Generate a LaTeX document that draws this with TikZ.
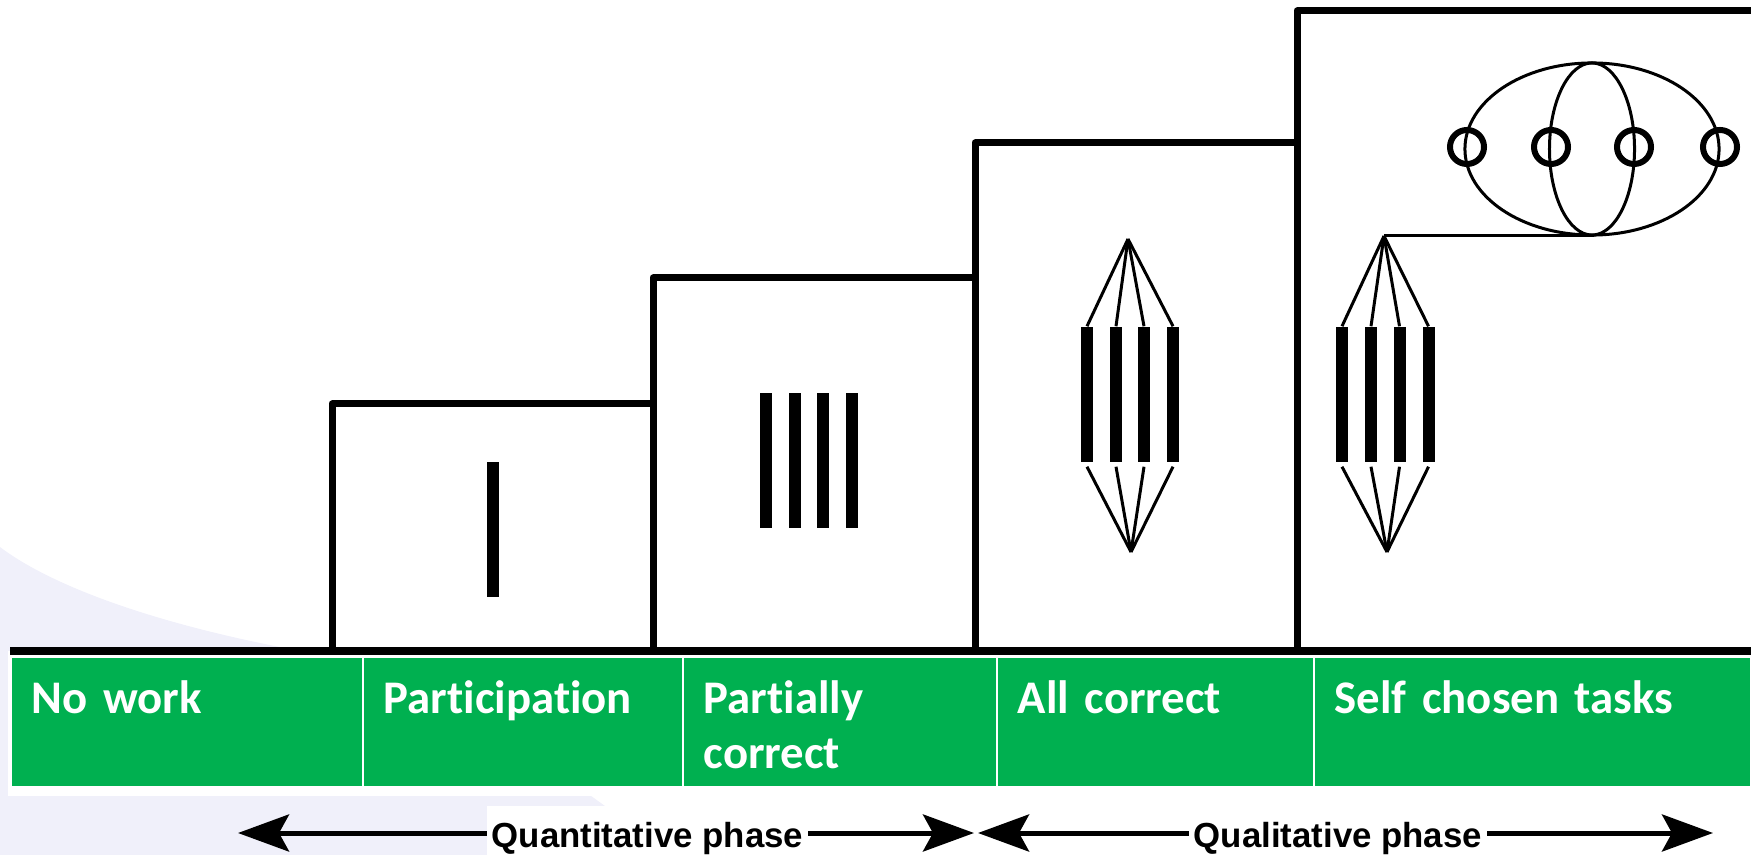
\documentclass[tikz,border=0pt]{standalone}
\usepackage{fontspec}
\newfontfamily\calfont{Carlito}[Ligatures=NoCommon]
\newfontfamily\arialfont{Liberation Sans}
\usetikzlibrary{arrows.meta,shapes.geometric}
\definecolor{levelgreen}{RGB}{0,176,80}
\definecolor{paleblue}{RGB}{240,240,250}

\begin{document}
\begin{tikzpicture}[x=0.01cm, y=-0.01cm,
  stepline/.style={line width=0.07cm, line join=round},
  groundline/.style={line width=0.08cm},
  bar/.style={fill=black, inner sep=0pt, minimum width=0.12cm, minimum height=1.35cm},
  fan/.style={line width=0.03cm},
  ring/.style={circle, draw, line width=0.06cm, minimum size=0.34cm, inner sep=0pt},
  cell/.style={fill=levelgreen, draw=white, line width=0.02cm},
  celltext/.style={anchor=base west, inner sep=0pt, text=white, text width=3.6cm, align=left,
    font=\calfont\bfseries\fontsize{13.3}{15.9}\selectfont},
  phase/.style={anchor=base west, fill=white, inner xsep=0.05cm, inner ysep=0.16cm,
    font=\arialfont\bfseries\fontsize{9.9}{12}\selectfont},
  phasearrow/.style={line width=0.05cm, >={Stealth[length=0.51cm, width=0.37cm, inset=0.1cm]}, <->}
]
\useasboundingbox (0,0) rectangle (1751,855);

% background swoosh and table backing
\fill[paleblue] (0,547) .. controls (50,585) and (150,622) .. (285,648)
  .. controls (420,690) and (560,760) .. (665,855) -- (0,855) -- cycle;
\fill[white] (8,651) rectangle (1751,796);

% the staircase
\draw[stepline] (332,651) |- (653,404) -- (653,651);
\draw[stepline] (653,404) |- (975,278) -- (975,651);
\draw[stepline] (975,278) |- (1297,143) -- (1297,651);
\draw[stepline] (1297,143) |- (1751,11);
\draw[groundline] (10,651) -- (1751,651);

% level cells
\foreach \xa/\xb/\lbl [count=\i] in {11/363/No work, 363/683/Participation,
    683/997/{Partially\\correct}, 997/1314/All correct, 1314/1751/Self chosen tasks} {
  \draw[cell] (\xa,657) rectangle (\xb,787);
  \node[celltext] (lvl\i) at (\xa+20,713) {\lbl};
}

% step 1
\node[bar] (a1) at (493,529.5) {};

% step 2
\foreach \x [count=\i] in {765.5,794.5,822.5,851.5}
  \node[bar] (b\i) at (\x,460.5) {};

% step 3
\coordinate (t3) at (1128,239);
\coordinate (u3) at (1131,552);
\foreach \x [count=\i] in {1087,1116,1144,1173} {
  \node[bar] (c\i) at (\x,394.5) {};
  \draw[fan] (t3) -- (c\i.north);
  \draw[fan] ([yshift=-0.04cm]c\i.south) -- (u3);
}

% step 4
\coordinate (t4) at (1384,236);
\coordinate (u4) at (1387,552);
\foreach \x [count=\i] in {1342,1371,1399.5,1428.5} {
  \node[bar] (d\i) at (\x,394.5) {};
  \draw[fan] (t4) -- (d\i.north);
  \draw[fan] ([yshift=-0.04cm]d\i.south) -- (u4);
}
\node[draw, ellipse, fan, minimum width=2.54cm, minimum height=1.72cm, inner sep=0pt] (group) at (1592,149) {};
\node[draw, ellipse, fan, minimum width=0.85cm, minimum height=1.72cm, inner sep=0pt] (pair) at (1592,149) {};
\foreach \x [count=\i] in {1467,1551,1634,1720}
  \node[ring] (m\i) at (\x,147) {};
\draw[fan] (t4) -- (t4 -| group.south) -- (group.south);

% phases
\coordinate (qnL) at (238,833);
\coordinate (qnR) at (974,833);
\coordinate (qlL) at (978,833);
\coordinate (qlR) at (1713,833);
\draw[phasearrow] (qnL) -- (qnR);
\draw[phasearrow] (qlL) -- (qlR);
\node[phase] (quant) at (486,847) {Quantitative phase};
\node[phase] (qual) at (1188,847) {Qualitative phase};
\end{tikzpicture}
\end{document}
